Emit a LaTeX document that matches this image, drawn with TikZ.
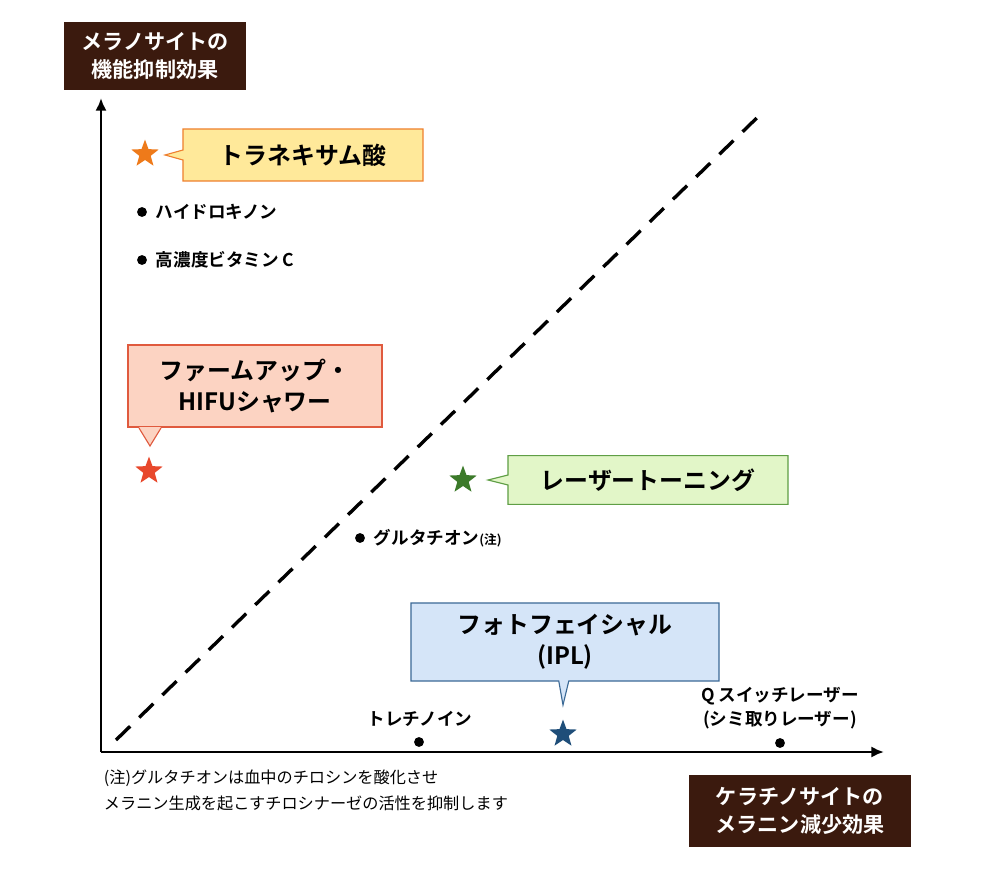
\documentclass[tikz,border=0pt]{standalone}
\usepackage{fontspec}
\setmainfont{Noto Sans CJK JP}[BoldFont={* Bold}]
\usetikzlibrary{shapes.geometric,shapes.callouts,arrows.meta}
\definecolor{darkbrown}{HTML}{3B1A0E}
\definecolor{orangestar}{HTML}{EE7A1A}
\definecolor{orangeline}{HTML}{EE8030}
\definecolor{yellowfill}{HTML}{FFE99A}
\definecolor{redstar}{HTML}{E8482C}
\definecolor{redline}{HTML}{E05A3E}
\definecolor{pinkfill}{HTML}{FCD3C2}
\definecolor{greenstar}{HTML}{3C7A2A}
\definecolor{greenline}{HTML}{5F9E45}
\definecolor{greenfill}{HTML}{E2F6C8}
\definecolor{navystar}{HTML}{1F4E79}
\definecolor{blueline}{HTML}{3C6A96}
\definecolor{bluefill}{HTML}{D5E5F8}
\tikzset{
  cornerlabel/.style={fill=darkbrown,text=white,font=\bfseries\fontsize{15}{20}\selectfont,align=center,inner sep=4pt},
  mark star/.style={star,star points=5,star point ratio=2.4,minimum size=0.72cm,inner sep=0pt},
  callbox/.style={rectangle callout,draw,line width=0.8pt,font=\bfseries\fontsize{17}{22}\selectfont,align=center,inner sep=5pt},
  plainbox/.style={rectangle,draw,line width=0.8pt,font=\bfseries\fontsize{17}{22}\selectfont,align=center,inner sep=5pt},
  dotlabel/.style={font=\bfseries\fontsize{12.5}{16}\selectfont,anchor=west,inner sep=0pt},
  dot/.style={circle,fill=black,minimum size=7pt,inner sep=0pt}
}
\begin{document}
\begin{tikzpicture}[x=0.025cm,y=-0.025cm]
\useasboundingbox (0,0) rectangle (999,872);
% axes
\coordinate (o) at (101,752);
\coordinate (ytop) at (101,98);
\coordinate (xend) at (884,752);
\draw [line width=1.8pt,-{Latex[length=9pt,width=8pt]}] (o) -- (ytop);
\draw [line width=1.8pt,-{Latex[length=9pt,width=8pt]}] (o) -- (xend);
\coordinate (d1) at (116,740);
\coordinate (d2) at (765,110);
\draw [line width=2.4pt,dash pattern=on 14pt off 9pt] (d1) -- (d2);
% corner labels
\node [cornerlabel,minimum width=4.55cm,minimum height=1.7cm] (ylab) at (155,56) {メラノサイトの\\機能抑制効果};
\node [cornerlabel,minimum width=5.55cm,minimum height=1.8cm] (xlab) at (800,811) {ケラチノサイトの\\メラニン減少効果};
% stars and callouts
\node [mark star,fill=orangestar] (s1) at (145,154) {};
\node [callbox,draw=orangeline,fill=yellowfill,minimum width=6cm,minimum height=1.3cm,
  callout absolute pointer={(165,155)}] (b1) at (303,155) {トラネキサム酸};
\node [mark star,fill=redstar] (s2) at (149,471) {};
\node [plainbox,draw=redline,fill=pinkfill,minimum width=6.35cm,minimum height=2.05cm] (b2) at (255,386) {ファームアップ・\\HIFUシャワー};
\fill [pinkfill] (139,427) -- (150,446) -- (161,427) -- cycle;
\draw [redline,line width=0.8pt] (139,428) -- (150,446) -- (161,428);
\node [mark star,fill=greenstar] (s3) at (463,480) {};
\node [callbox,draw=greenline,fill=greenfill,minimum width=7cm,minimum height=1.22cm,
  callout absolute pointer={(488,480)}] (b3) at (648,480) {レーザートーニング};
\node [mark star,fill=navystar] (s4) at (563,734) {};
\node [callbox,draw=blueline,fill=bluefill,minimum width=7.7cm,minimum height=1.95cm,
  callout absolute pointer={(563,705)}] (b4) at (565,642) {フォトフェイシャル\\(IPL)};
% dots
\node [dot] (p1) at (142,212) {};
\node [dotlabel] at ([xshift=6pt]p1.east) {ハイドロキノン};
\node [dot] (p2) at (142,260) {};
\node [dotlabel] at ([xshift=6pt]p2.east) {高濃度ビタミン C};
\node [dot] (p3) at (360,538) {};
\node [dotlabel] at ([xshift=6pt]p3.east) {グルタチオン{\fontsize{9}{10}\selectfont(注)}};
\node [dot] (p4) at (419,742) {};
\node [font=\bfseries\fontsize{12.5}{16}\selectfont] at (420,719) {トレチノイン};
\node [dot] (p5) at (780,743) {};
\node [font=\bfseries\fontsize{12.5}{17}\selectfont,align=center] at (780,708) {Q スイッチレーザー\\(シミ取りレーザー)};
% note
\node [anchor=west,font=\fontsize{11.5}{18.5}\selectfont,align=left] at (99,790) {(注)グルタチオンは血中のチロシンを酸化させ\\メラニン生成を起こすチロシナーゼの活性を抑制します};
\end{tikzpicture}
\end{document}
